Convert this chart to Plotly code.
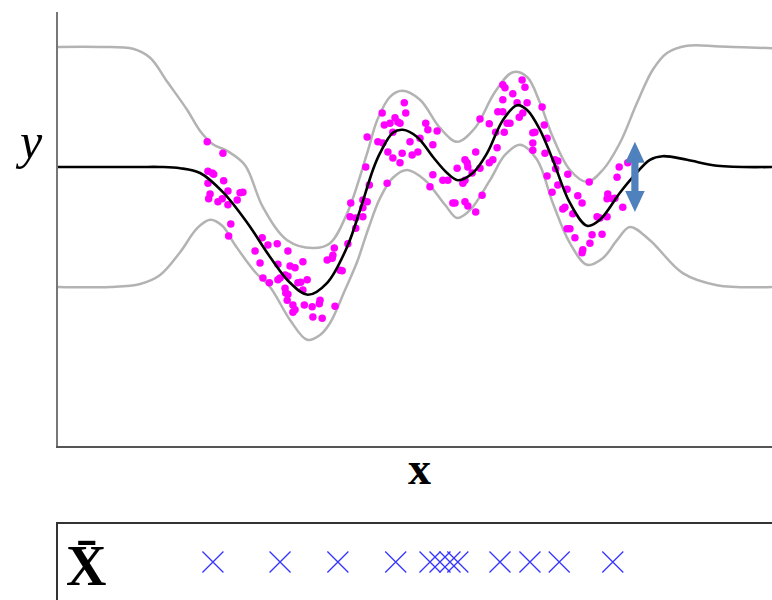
import plotly.graph_objects as go

# ---- data (x in [0,10], y in output units) ----
mean_x = [0, 0.59, 1.15, 1.43, 1.71, 1.99, 2.31, 2.65, 2.97, 3.25, 3.50, 3.77, 4.05, 4.23, 4.41, 4.51,
          4.69, 4.83, 5.03, 5.25, 5.45, 5.60, 5.81, 6.01, 6.23, 6.43, 6.57, 6.75, 6.93, 7.17, 7.41,
          7.59, 7.87, 8.05, 8.29, 8.47, 8.81, 9.23, 10]
mean_y = [0, 0, 0, 0, -0.02, -0.10, -0.42, -0.93, -1.50, -1.93, -2.13, -1.93, -1.33, -0.72, -0.05, 0.23,
          0.57, 0.62, 0.50, 0.17, -0.10, -0.22, -0.10, 0.23, 0.78, 1.03, 0.95, 0.62, 0.12, -0.60, -0.98,
          -0.88, -0.43, -0.17, 0.12, 0.18, 0.12, 0.02, 0]

upper_x = [0, 0.59, 1.05, 1.29, 1.53, 1.81, 1.99, 2.17, 2.38, 2.62, 2.87, 3.21, 3.57, 3.81, 4.05, 4.33,
           4.47, 4.65, 4.82, 5.07, 5.35, 5.59, 5.84, 6.12, 6.37, 6.57, 6.75, 6.93, 7.17, 7.41, 7.63,
           7.87, 8.11, 8.33, 8.53, 8.81, 9.27, 10]
upper_y = [2.0, 2.0, 1.97, 1.82, 1.42, 0.95, 0.60, 0.38, 0.26, 0.03, -0.67, -1.22, -1.35, -1.27, -0.77, 0.23,
           0.78, 1.17, 1.27, 1.12, 0.65, 0.42, 0.65, 1.25, 1.58, 1.50, 1.07, 0.50, -0.05, -0.25, -0.05,
           0.40, 1.07, 1.62, 1.90, 2.02, 2.01, 1.98]

lower_x = [0, 0.73, 1.15, 1.43, 1.71, 1.95, 2.13, 2.30, 2.48, 2.76, 2.97, 3.25, 3.49, 3.67, 3.81, 4.02,
           4.19, 4.34, 4.51, 4.69, 4.89, 5.14, 5.42, 5.59, 5.77, 6.05, 6.26, 6.47, 6.71, 6.93, 7.17,
           7.41, 7.63, 7.83, 8.01, 8.29, 8.75, 9.23, 10]
lower_y = [-2.0, -2.0, -1.95, -1.80, -1.42, -1.02, -0.88, -0.98, -1.30, -1.75, -2.0, -2.55, -2.88, -2.80, -2.60, -2.05,
           -1.58, -1.05, -0.52, -0.18, -0.05, -0.22, -0.63, -0.85, -0.72, -0.22, 0.20, 0.37, 0.12, -0.60, -1.27,
           -1.63, -1.52, -1.22, -1.00, -1.22, -1.77, -1.97, -2.0]

obs_x = [2.09, 2.31, 2.10, 2.16, 2.18, 2.32, 2.10, 2.38, 2.13, 2.11, 2.55, 2.59, 2.30, 2.24, 2.51, 2.38,
         2.42, 2.39, 2.86, 2.94, 3.07, 2.76, 3.22, 2.83, 3.08, 3.25, 3.32, 3.43, 3.18, 3.11, 3.08, 2.87,
         2.96, 3.22, 3.36, 3.40, 3.49, 3.18, 3.19, 3.22, 3.43, 3.21, 3.29, 3.32, 3.29, 3.45, 3.56, 3.67,
         3.66, 3.57, 3.70, 3.88, 3.77, 3.84, 3.85, 3.87, 3.95, 3.98, 4.06, 4.10, 4.09, 4.17, 4.17, 4.27,
         4.27, 4.27, 4.33, 4.36, 4.31, 4.33, 4.48,
         4.55, 4.54, 4.57, 4.65, 4.72, 4.76, 4.79, 4.85, 4.87, 4.69, 4.62, 4.69, 4.79, 4.82, 4.96, 5.04,
         4.93, 5.07, 5.15, 5.18, 5.31, 5.25, 4.61, 5.21, 5.25, 5.39, 5.46, 5.59, 5.53, 5.56, 5.70, 5.74,
         5.70, 5.73, 5.74, 5.67, 5.70, 5.80, 5.85, 5.85, 5.91, 5.94, 6.04, 6.09, 6.15, 5.91, 6.04, 6.13,
         6.16, 6.23, 6.23, 6.25, 6.29, 6.23, 6.26, 6.37, 6.43, 6.57, 6.50, 6.54, 6.46, 6.51, 6.65, 6.65,
         6.65, 6.33,
         6.78, 6.81, 6.68, 6.85, 6.82, 6.96, 7.00, 6.97, 7.14, 6.85, 7.00, 7.13, 6.92, 7.28, 7.34, 7.07,
         7.10, 7.21, 7.44, 7.70, 7.69, 7.80, 7.55, 7.69, 7.17, 7.13, 7.24, 7.48, 7.62, 7.45, 7.35, 7.34,
         7.83, 7.86, 7.91, 7.98, 7.77, 7.59]
obs_y = [0.42, 0.23, -0.07, -0.10, -0.12, -0.23, -0.27, -0.40, -0.45, -0.53, -0.43, -0.42, -0.53, -0.58, -0.55, -0.63,
         -0.95, -1.15, -1.18, -1.30, -1.28, -1.40, -1.40, -1.60, -1.62, -1.65, -1.68, -1.58, -1.80, -1.85, -1.88, -1.85,
         -1.93, -1.82, -1.93, -1.92, -1.88, -2.02, -2.10, -2.12, -2.05, -2.22, -2.30, -2.38, -2.42, -2.30, -2.33, -2.22,
         -2.28, -2.50, -2.52, -2.32, -1.55, -1.52, -1.47, -1.35, -1.72, -1.73, -1.28, -0.60, -0.83, -0.85, -1.02, -0.55,
         -0.68, -0.83, -0.58, -0.30, 0.00, 0.50, 0.42,
         0.40, 0.90, 0.70, 0.73, 0.82, 0.75, 0.73, 1.07, 0.90, 0.58, 0.25, 0.15, 0.07, 0.23, 0.20, 0.25,
         0.42, 0.48, 0.73, 0.62, 0.60, 0.37, -0.27, -0.33, -0.13, -0.22, -0.22, -0.02, -0.60, -0.60, -0.58, -0.65,
         0.12, 0.07, 0.00, -0.27, -0.22, -0.10, 0.25, -0.75, -0.02, -0.47, 0.07, 0.12, 0.32, 0.80, 0.72, 0.58,
         0.92, 0.92, 1.12, 0.58, 0.73, 1.37, 1.32, 1.22, 1.07, 1.07, 1.45, 1.33, 0.83, 0.90, 0.57, 0.40,
         0.28, 0.73,
         1.00, 0.70, 0.58, 0.48, 0.23, 0.12, 0.10, -0.03, -0.12, -0.15, -0.30, -0.37, -0.42, -0.48, -0.60, -0.70,
         -0.67, -0.78, -0.25, -0.45, -0.53, -0.52, -0.83, -0.83, -1.03, -1.03, -1.18, -1.13, -1.12, -1.27, -1.38, -1.43,
         -0.17, 0.00, -0.67, 0.07, -0.53, -0.85]

inducing_x = [2.17, 3.11, 3.92, 4.73, 5.21, 5.35, 5.49, 5.60, 6.19, 6.61, 7.02, 7.77]

arrow_x = 8.08
arrow_top = 0.42
arrow_bottom = -0.75

# ---- layout geometry ----
W, H = 772, 600
X_RANGE = [0, 10]
Y_RANGE = [-4.65, 2.583]
MAIN_DOMAIN = [0.2567, 0.98]
BOT_DOMAIN = [0, 0.1267]

fig = go.Figure()

band = dict(color="#b3b3b3", width=2.5, shape="spline", smoothing=1.0)
fig.add_trace(go.Scatter(x=upper_x, y=upper_y, mode="lines", line=band, hoverinfo="skip"))
fig.add_trace(go.Scatter(x=lower_x, y=lower_y, mode="lines", line=band, hoverinfo="skip"))
fig.add_trace(go.Scatter(x=obs_x, y=obs_y, mode="markers",
                         marker=dict(color="#ff00ff", size=7.5, line=dict(width=0))))
fig.add_trace(go.Scatter(x=mean_x, y=mean_y, mode="lines",
                         line=dict(color="#000000", width=2.6, shape="spline", smoothing=1.0)))

fig.add_trace(go.Scatter(x=inducing_x, y=[0] * len(inducing_x), mode="markers",
                         xaxis="x2", yaxis="y2",
                         marker=dict(symbol="x-thin", size=21,
                                     line=dict(color="#3535ff", width=1.3))))

# arrow as a filled path (sizes in pixels converted to data units)
plot_w = W * 1.0 - 58
plot_h = H * (MAIN_DOMAIN[1] - MAIN_DOMAIN[0])
xpu = plot_w / (X_RANGE[1] - X_RANGE[0])
ypu = plot_h / (Y_RANGE[1] - Y_RANGE[0])
hw = 9.8 / xpu
sw = 3.6 / xpu
hh = 21 / ypu
cx, yt, yb = arrow_x, arrow_top, arrow_bottom
pts = [(cx, yt), (cx + hw, yt - hh), (cx + sw, yt - hh), (cx + sw, yb + hh), (cx + hw, yb + hh),
       (cx, yb), (cx - hw, yb + hh), (cx - sw, yb + hh), (cx - sw, yt - hh), (cx - hw, yt - hh)]
path = "M " + " L ".join(f"{px},{py}" for px, py in pts) + " Z"
fig.add_shape(type="path", path=path, xref="x", yref="y", fillcolor="#4f81bd",
              line=dict(width=0), layer="above")

fig.update_layout(
    width=W, height=H,
    margin=dict(l=58, r=0, t=0, b=0),
    paper_bgcolor="white", plot_bgcolor="white",
    showlegend=False,
    xaxis=dict(range=X_RANGE, domain=[0, 1], anchor="y", showline=True, linecolor="#555555",
               linewidth=2, showgrid=False, zeroline=False, showticklabels=False, ticks=""),
    yaxis=dict(range=Y_RANGE, domain=MAIN_DOMAIN, anchor="x", showline=True, linecolor="#777777",
               linewidth=2, showgrid=False, zeroline=False, showticklabels=False, ticks=""),
    xaxis2=dict(range=X_RANGE, domain=[0, 1], anchor="y2", side="top", showline=True,
                linecolor="#333333", linewidth=2, showgrid=False, zeroline=False,
                showticklabels=False, ticks=""),
    yaxis2=dict(range=[-1, 1], domain=BOT_DOMAIN, anchor="x2", showline=True,
                linecolor="#333333", linewidth=2, showgrid=False, zeroline=False,
                showticklabels=False, ticks=""),
    annotations=[
        dict(text="<i>y</i>", x=-0.041, y=0.765, xref="paper", yref="paper", showarrow=False,
             xanchor="center", yanchor="middle",
             font=dict(family="Liberation Serif", size=50, color="black")),
        dict(text="<b>x</b>", x=0.507, y=0.219, xref="paper", yref="paper", showarrow=False,
             xanchor="center", yanchor="middle",
             font=dict(family="Liberation Serif", size=46, color="black")),
        dict(text="<b>X\u0304</b>", x=0.039, y=0.057, xref="paper", yref="paper", showarrow=False,
             xanchor="center", yanchor="middle",
             font=dict(family="Liberation Serif", size=56, color="black")),
    ],
)

fig.write_html("out.html")
